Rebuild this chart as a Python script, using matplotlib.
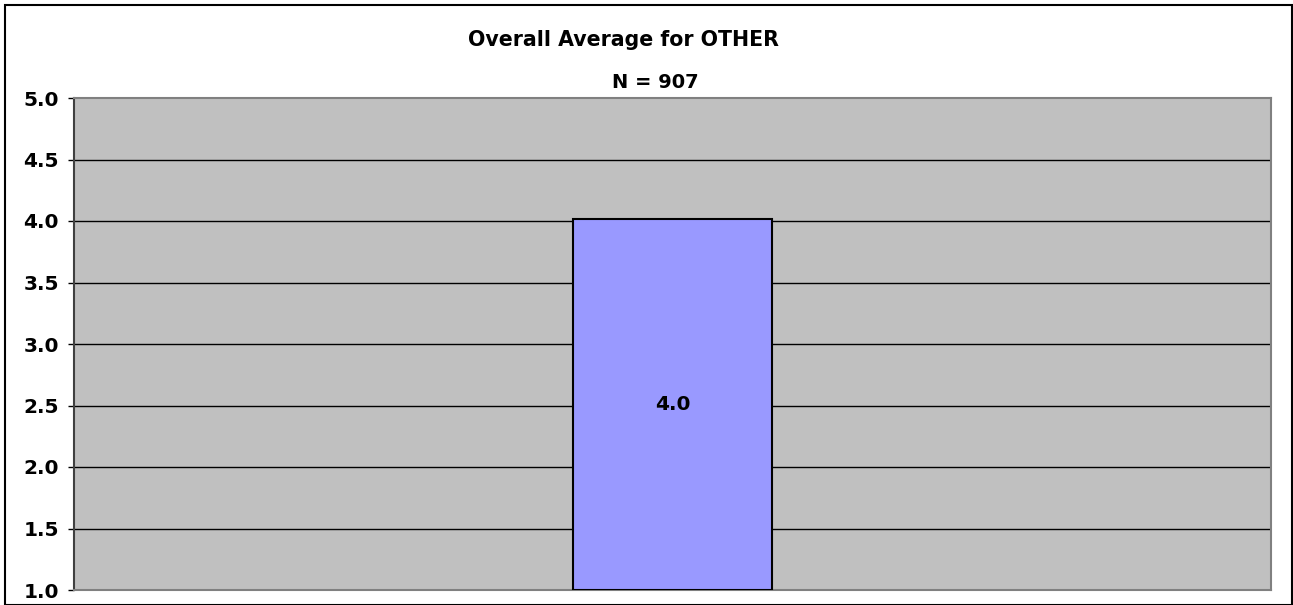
import matplotlib
matplotlib.use("Agg")
import matplotlib.pyplot as plt
from matplotlib.patches import Rectangle

# overall average score
categories = ["OTHER"]
averages = [4.02]
n_responses = 907
y_ticks = [1.0, 1.5, 2.0, 2.5, 3.0, 3.5, 4.0, 4.5, 5.0]

W, H = 1293, 605
fig = plt.figure(figsize=(W / 100, H / 100), dpi=100)
ax = fig.add_axes([74 / W, 1 - 590 / H, 1197 / W, 492 / H])

ax.set_facecolor("#c0c0c0")
ax.set_xlim(-0.5, 0.5)
ax.set_ylim(1.0, 5.0)

for y in y_ticks[1:-1]:
    ax.axhline(y, color="black", linewidth=1, zorder=1)

ax.bar(range(len(categories)), [v - 1.0 for v in averages], bottom=1.0, width=0.1655,
       color="#9999ff", edgecolor="black", linewidth=1.5, zorder=3)
for i, v in enumerate(averages):
    ax.text(i, (1.0 + v) / 2, f"{v:.1f}", ha="center", va="center",
            fontsize=14.5, fontweight="bold", zorder=4)

ax.set_yticks(y_ticks)
ax.set_yticklabels([f"{t:.1f}" for t in y_ticks], fontsize=14.5, fontweight="bold")
ax.tick_params(axis="y", length=4.3, width=1, color="black", pad=6.5)
ax.set_xticks([])

for side in ["top", "right", "bottom"]:
    ax.spines[side].set_color("#808080")
    ax.spines[side].set_linewidth(1.5)
ax.spines["left"].set_color("#404040")
ax.spines["left"].set_linewidth(1.5)

fig.text(623 / W, 1 - 40 / H, f"Overall Average for {categories[0]}",
         ha="center", va="center", fontsize=14.8, fontweight="bold")
fig.text(655 / W, 1 - 83 / H, f"N = {n_responses}",
         ha="center", va="center", fontsize=14, fontweight="bold")

# outer frame around the whole chart
fig.patches.append(Rectangle((5 / W, 0), 1 - 6 / W, 1 - 5 / H,
                             transform=fig.transFigure, fill=False,
                             edgecolor="black", linewidth=1.5))

fig.savefig("out.png", dpi=100)
